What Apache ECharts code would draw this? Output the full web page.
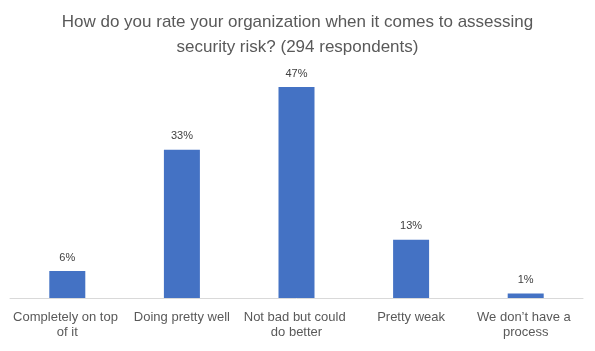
<!DOCTYPE html>
<html>
<head>
<meta charset="UTF-8">
<title>security-risk-rating</title>
<script src="https://cdn.jsdelivr.net/npm/echarts@6/dist/echarts.min.js"></script>
<style>
html, body { margin: 0; padding: 0; background: #fff; }
#main { width: 595px; height: 351px; }
</style>
</head>
<body>
<div id="main"></div>
<script>
// categories and percentages
var categories = ['Completely on top of it', 'Doing pretty well', 'Not bad but could do better', 'Pretty weak', 'We don\u2019t have a process'];
var percents = [6, 33, 47, 13, 1];

var chart = echarts.init(document.getElementById('main'));

chart.setOption({
  animation: false,
  title: {
    text: 'How do you rate your organization when it comes to assessing\nsecurity risk? (294 respondents)',
    left: 'center',
    top: 5,
    textStyle: {
      fontFamily: 'Liberation Sans',
      fontSize: 17,
      fontWeight: 'normal',
      color: '#595959',
      lineHeight: 25
    }
  },
  grid: { left: 10, right: 12, top: 87, bottom: 53 },
  xAxis: {
    type: 'category',
    data: categories,
    axisLine: { lineStyle: { color: '#d9d9d9' } },
    axisTick: { show: false },
    axisLabel: {
      interval: 0,
      width: 112,
      overflow: 'break',
      margin: 12,
      fontFamily: 'Liberation Sans',
      fontSize: 13,
      lineHeight: 15,
      color: '#595959'
    }
  },
  yAxis: {
    type: 'value',
    min: 0,
    max: 47,
    show: false,
    splitLine: { show: false }
  },
  series: [{
    type: 'bar',
    data: percents,
    barWidth: 36,
    itemStyle: { color: '#4472C4' },
    label: {
      show: true,
      position: 'top',
      distance: 8,
      formatter: '{c}%',
      fontFamily: 'Liberation Sans',
      fontSize: 11,
      color: '#404040'
    }
  }]
});
</script>
</body>
</html>
